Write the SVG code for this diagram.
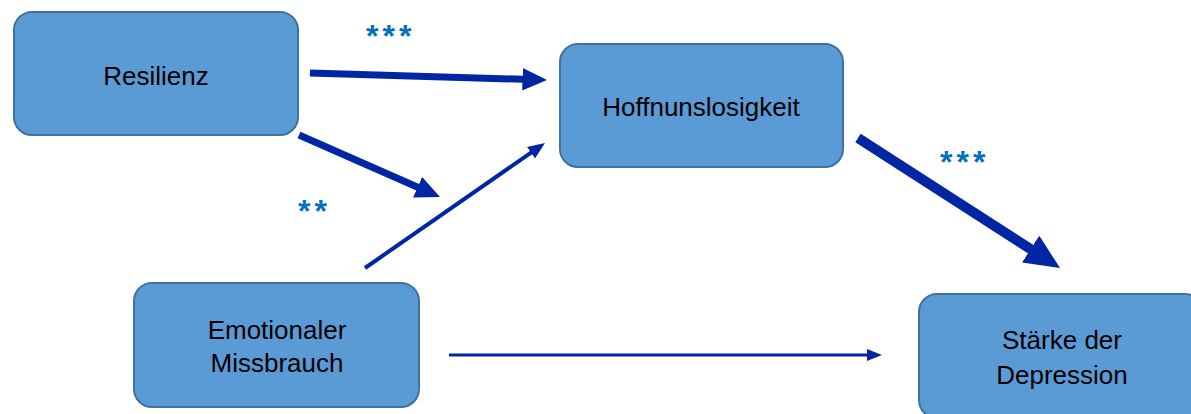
<svg xmlns="http://www.w3.org/2000/svg" width="1191" height="414" viewBox="0 0 1191 414">
<style>
.box{fill:#5B9BD5;stroke:#41719C;stroke-width:2}
.lbl{font-family:"Liberation Sans",Arial,sans-serif;font-size:26px;fill:#000;text-anchor:middle}
.sig{font-family:"Liberation Sans",Arial,sans-serif;font-size:32px;font-weight:bold;fill:#0070C0;letter-spacing:4px}
.conn{stroke:#0026A3;fill:none;stroke-linecap:butt}
</style>
<defs>
<marker id="headA" viewBox="0 0 3.5 3.2" refX="1" refY="1.6" markerWidth="3.5" markerHeight="3.2" orient="auto" markerUnits="strokeWidth"><path d="M0,0 L3.5,1.6 L0,3.2 z" fill="#0026A3"/></marker>
<marker id="headB" viewBox="0 0 4.25 3.5" refX="1" refY="1.75" markerWidth="4.25" markerHeight="3.5" orient="auto" markerUnits="strokeWidth"><path d="M0,0 L4.25,1.75 L0,3.5 z" fill="#0026A3"/></marker>
<marker id="headC" viewBox="0 0 5 4" refX="1" refY="2" markerWidth="5" markerHeight="4" orient="auto" markerUnits="strokeWidth"><path d="M0,0 L5,2 L0,4 z" fill="#0026A3"/></marker>
</defs>
<g id="connectors">
<line class="conn" x1="310" y1="73" x2="529.5" y2="79.5" stroke-width="7" marker-end="url(#headA)"/>
<line class="conn" x1="299" y1="135" x2="424" y2="190" stroke-width="7" marker-end="url(#headA)"/>
<line class="conn" x1="365" y1="268" x2="534.3" y2="150.4" stroke-width="4" marker-end="url(#headB)"/>
<line class="conn" x1="858" y1="138" x2="1039" y2="254.5" stroke-width="10" marker-end="url(#headA)"/>
<line class="conn" x1="449" y1="355" x2="870" y2="355" stroke-width="3" marker-end="url(#headC)"/>
</g>
<g id="labels">
<text class="sig" x="366" y="47">***</text>
<text class="sig" x="298" y="222">**</text>
<text class="sig" x="940" y="173">***</text>
</g>
<g id="node-resilienz">
<rect class="box" x="14" y="12" width="284" height="123" rx="18"/>
<text class="lbl" x="156" y="85">Resilienz</text>
</g>
<g id="node-hoffnung">
<rect class="box" x="560" y="44" width="283" height="123" rx="18"/>
<text class="lbl" x="701" y="116">Hoffnunslosigkeit</text>
</g>
<g id="node-emotional">
<rect class="box" x="134" y="283" width="285" height="124" rx="18"/>
<text class="lbl" x="277" y="339">Emotionaler</text>
<text class="lbl" x="277" y="372">Missbrauch</text>
</g>
<g id="node-staerke">
<rect class="box" x="919" y="294" width="284" height="124" rx="18"/>
<text class="lbl" x="1062" y="349">Stärke der</text>
<text class="lbl" x="1062" y="384">Depression</text>
</g>
</svg>
